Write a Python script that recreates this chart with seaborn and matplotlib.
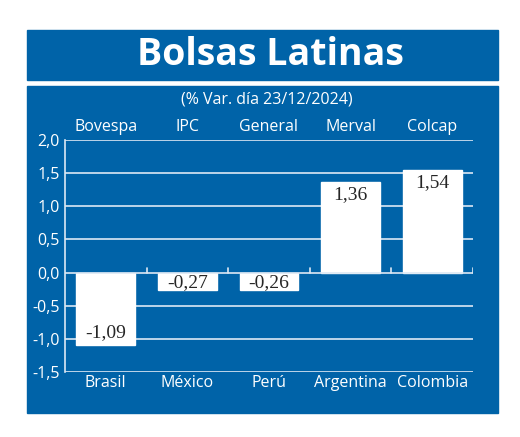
import matplotlib
matplotlib.use("Agg")
import matplotlib.pyplot as plt
import seaborn as sns
import pandas as pd
from matplotlib.patches import Rectangle

indices = ["Bovespa", "IPC", "General", "Merval", "Colcap"]
countries = ["Brasil", "México", "Perú", "Argentina", "Colombia"]
values = [-1.09, -0.27, -0.26, 1.36, 1.54]
yticks = [-1.5, -1.0, -0.5, 0.0, 0.5, 1.0, 1.5, 2.0]

BLUE = "#0063a8"
sns.set_theme(style="white")
plt.rcParams["font.family"] = ["Open Sans", "DejaVu Sans"]

fig = plt.figure(figsize=(5.2, 4.37), dpi=100)
fig.patch.set_facecolor("white")
fig.patches.append(Rectangle((27/520, 1-80/437), 471/520, 50/437, transform=fig.transFigure, color=BLUE, zorder=-5))
fig.patches.append(Rectangle((27/520, 1-413/437), 471/520, 327/437, transform=fig.transFigure, color=BLUE, zorder=-5))
fig.text(0.52, 1-55/437, "Bolsas Latinas", ha="center", va="center", color="white", fontsize=27, fontweight="bold")
fig.text(0.513, 1-99/437, "(% Var. día 23/12/2024)", ha="center", va="center", color="white", fontsize=11.5)

ax = fig.add_axes([65/520, 1-372/437, 408/520, 232/437])
ax.set_zorder(2)
ax.set_facecolor("none")
df = pd.DataFrame({"c": countries, "v": values})
sns.barplot(data=df, x="c", y="v", color="white", width=0.72, saturation=1, ax=ax, zorder=3)
ax.set_ylim(-1.5, 2.0)
ax.set_xlim(-0.5, 4.5)
ax.set_yticks(yticks)
ax.set_yticklabels([f"{t:.1f}".replace(".", ",") for t in yticks], color="white", fontsize=11.5)
for t in yticks:
    if t != 0:
        ax.axhline(t, color="#dce8f4", lw=1.2, zorder=1)
ax.axhline(0, color="#dce8f4", lw=1.2, zorder=4)
for b in [0.5, 1.5, 2.5, 3.5, 4.5]:
    ax.plot([b, b], [0, 0.07], color="#dce8f4", lw=1.2, zorder=4)
ax.tick_params(axis="y", length=0, pad=4)
ax.set_xticks(range(5))
ax.set_xticklabels(countries, color="white", fontsize=11.5)
ax.tick_params(axis="x", length=0, pad=2)
ax.set_xlabel(""); ax.set_ylabel("")
for s in ["top", "right", "bottom"]:
    ax.spines[s].set_visible(False)
ax.spines["left"].set_color("#dce8f4")
ax.spines["left"].set_linewidth(1.2)
for i, name in enumerate(indices):
    ax.text(i, 2.07, name, ha="center", va="bottom", color="white", fontsize=11.5)
for i, v in enumerate(values):
    lab = f"{v:.2f}".replace(".", ",")
    if v > 0:
        ax.text(i, v - 0.06, lab, ha="center", va="top", fontsize=14, family="Liberation Serif", zorder=5)
    elif v < -0.5:
        ax.text(i, v + 0.05, lab, ha="center", va="bottom", fontsize=14, family="Liberation Serif", zorder=5)
    else:
        ax.text(i, v / 2 - 0.02, lab, ha="center", va="center", fontsize=14, family="Liberation Serif", zorder=5)
fig.savefig("out.png", dpi=100)
